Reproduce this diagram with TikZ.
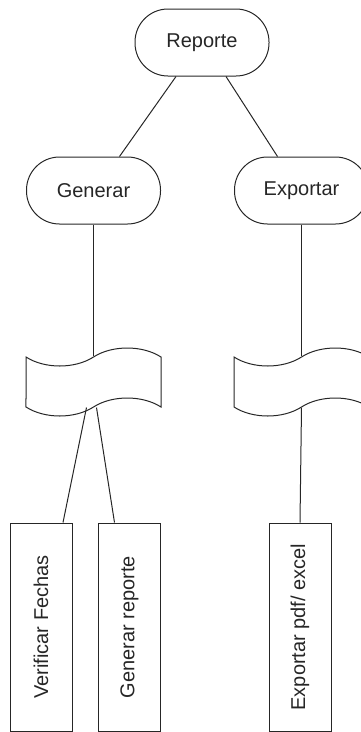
\documentclass[tikz,border=0pt]{standalone}
\usepackage{fontspec}
\setmainfont{Liberation Sans}
\usetikzlibrary{shapes.symbols}

\begin{document}
\begin{tikzpicture}[x=1pt,y=-1pt,line width=1pt,color=black!85,
  font=\fontsize{20}{24}\selectfont,
  term/.style={draw,rounded corners=33pt,minimum width=134pt,minimum height=67pt},
  band/.style={draw,tape,minimum width=135pt,minimum height=68pt,tape bend height=18pt,inner sep=0pt},
  task/.style={draw,minimum width=62pt,minimum height=208pt,inner sep=0pt}]
\useasboundingbox (0,0) rectangle (360,732);
% top
\node (rep) [term] at (202,42.5) {Reporte};
\node (gen) [term] at (93.5,190.5) {Generar}; \node (exp) [term] at (301.5,190.5) {Exportar};
\draw ([xshift=-26pt]rep.south) -- ([xshift=26pt]gen.north);
\draw ([xshift=24pt]rep.south) -- ([xshift=-24pt]exp.north);
% bands
\node (gband) [band] at (93.5,382) {}; \node (eband) [band] at (301.5,382) {};
\draw (gen.south) -- (gband.north); \draw (exp.south) -- (eband.north);
% tasks
\node (vf) [task] at (41,627) {\rotatebox{90}{Verificar Fechas}};
\node (gr) [task] at (129.5,627) {\rotatebox{90}{Generar reporte}};
\node (ep) [task] at (300,627) {\rotatebox{90}{Exportar pdf/ excel}};
\draw ([xshift=-7pt]gband.south) -- ([xshift=22pt]vf.north);
\draw ([xshift=3pt]gband.south) -- ([xshift=-15pt]gr.north);
\draw (eband.south) -- (ep.north);
\end{tikzpicture}
\end{document}
